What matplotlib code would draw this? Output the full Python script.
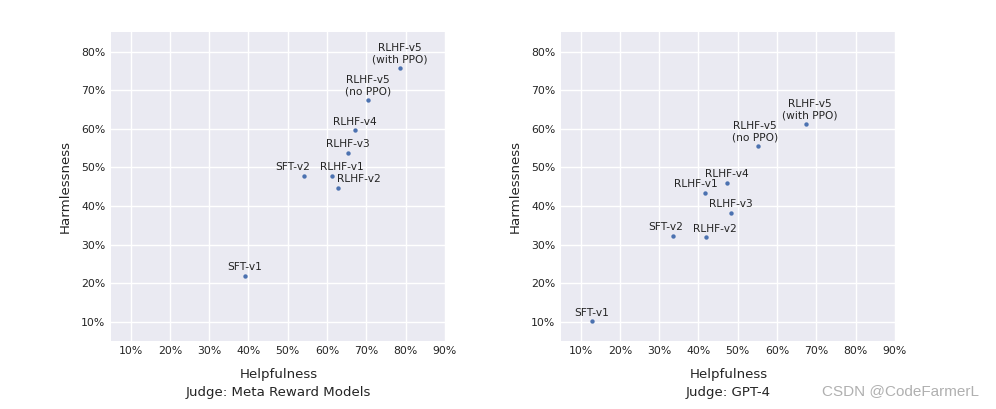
import numpy as np
import matplotlib
matplotlib.use("Agg")
from matplotlib import pyplot as plt
from matplotlib.ticker import FuncFormatter

# data (percent)
models = ["SFT-v1", "SFT-v2", "RLHF-v1", "RLHF-v2", "RLHF-v3", "RLHF-v4",
          "RLHF-v5\n(no PPO)", "RLHF-v5\n(with PPO)"]

meta_help = [39.0, 54.2, 61.3, 62.8, 65.3, 67.1, 70.4, 78.5]
meta_harm = [22.0, 47.9, 47.9, 44.8, 53.8, 59.6, 67.6, 75.9]

gpt4_help = [12.8, 33.4, 41.6, 42.0, 48.3, 47.3, 55.2, 67.3]
gpt4_harm = [10.2, 32.3, 43.4, 31.9, 38.3, 46.1, 55.5, 61.3]

x_ticks = [10, 20, 30, 40, 50, 60, 70, 80, 90]
y_ticks = [10, 20, 30, 40, 50, 60, 70, 80]

# horizontal label shifts in pixels (label placement only)
meta_shift = [0, -12, 10, 21, 0, 0, 0, 0]
gpt4_shift = [0, -7, -9, 9, 0, 0, -3, 4]

BG = "#EAEAF2"
DOT = "#4C72B0"
INK = "#242424"
PX = 72 / 100  # pixels -> points at dpi 100

fig = plt.figure(figsize=(9.96, 4.09), dpi=100)

def panel(rect, hx, hy, shifts, judge):
    ax = fig.add_axes(rect)
    ax.set_facecolor(BG)
    ax.set_xlim(5, 90.3)
    ax.set_ylim(5.1, 85.2)
    ax.set_xticks(x_ticks)
    ax.set_yticks(y_ticks)
    pct = FuncFormatter(lambda v, p: f"{v:.0f}%")
    ax.xaxis.set_major_formatter(pct)
    ax.yaxis.set_major_formatter(pct)
    ax.grid(True, color="white", linewidth=1.0)
    ax.set_axisbelow(True)
    for s in ax.spines.values():
        s.set_visible(False)
    ax.tick_params(length=0, labelsize=7.8, colors=INK, pad=4)
    ax.scatter(hx, hy, s=10, color=DOT, zorder=3, linewidths=0)
    for name, x, y, dx in zip(models, hx, hy, shifts):
        ax.annotate(name, (x, y), xytext=(dx * PX, 2.5), textcoords="offset points",
                    ha="center", va="bottom", fontsize=7.7, color=INK,
                    multialignment="center")
    ax.set_xlabel("Helpfulness\nJudge: " + judge, fontsize=9.6, color=INK,
                  labelpad=8.4, linespacing=1.5)
    ax.set_ylabel("Harmlessness", fontsize=9.6, color=INK, labelpad=7)
    return ax

panel([0.1114, 0.167, 0.3364, 0.7555], meta_help, meta_harm, meta_shift, "Meta Reward Models")
panel([0.5633, 0.167, 0.3363, 0.7555], gpt4_help, gpt4_harm, gpt4_shift, "GPT-4")

fig.text(0.825, 0.035, "CSDN @CodeFarmerL", fontsize=11, color="#B0B0B0",
         family="Liberation Sans")

plt.savefig("out.png", dpi=100)
plt.close()
